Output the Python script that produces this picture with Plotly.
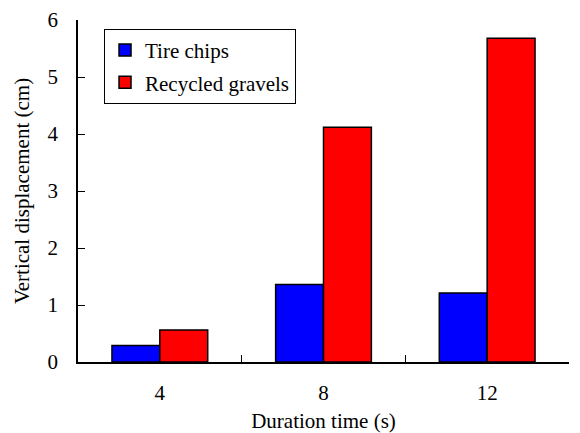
import plotly.graph_objects as go

categories = ["4", "8", "12"]
tire_chips = [0.29, 1.36, 1.21]
recycled_gravels = [0.56, 4.12, 5.68]
y_ticks = [0, 1, 2, 3, 4, 5, 6]

font = dict(family="Liberation Serif, Times New Roman, serif", size=21, color="black")

fig = go.Figure()
fig.add_trace(go.Bar(x=categories, y=tire_chips, name="Tire chips", legendgroup="a",
                     marker=dict(color="#0000ff", line=dict(color="black", width=1.5))))
fig.add_trace(go.Bar(x=categories, y=recycled_gravels, name="Recycled gravels", legendgroup="b",
                     marker=dict(color="#ff0000", line=dict(color="black", width=1.5))))

fig.update_layout(
    width=580, height=433,
    margin=dict(l=78, r=11, t=20, b=71),
    paper_bgcolor="white", plot_bgcolor="white",
    font=font,
    barmode="group", bargap=0.415, bargroupgap=0,
    showlegend=True,
    legend=dict(x=0.053, y=0.974, xanchor="left", yanchor="top",
                bgcolor="white", bordercolor="black", borderwidth=1,
                font=font, itemwidth=30, tracegroupgap=2),
    xaxis=dict(type="category", showline=True, linecolor="black", linewidth=1.5,
               ticks="inside", tickson="boundaries", ticklen=7, tickcolor="black",
               tickfont=font, ticklabelstandoff=11, automargin=False,
               title=dict(text="Duration time (s)", font=font, standoff=12),
               showgrid=False, mirror=False),
    yaxis=dict(range=[0, 6], tickvals=y_ticks, showline=True, linecolor="black", linewidth=1.5,
               ticks="inside", ticklen=7, tickcolor="black",
               tickfont=font, ticklabelstandoff=14, automargin=False,
               title=dict(text="Vertical displacement (cm)", font=font, standoff=12),
               showgrid=False, zeroline=False, mirror=False),
)

fig.write_html("out.html", config={"displayModeBar": False},
               post_script="document.body.style.margin='0';document.body.style.padding='0';")
